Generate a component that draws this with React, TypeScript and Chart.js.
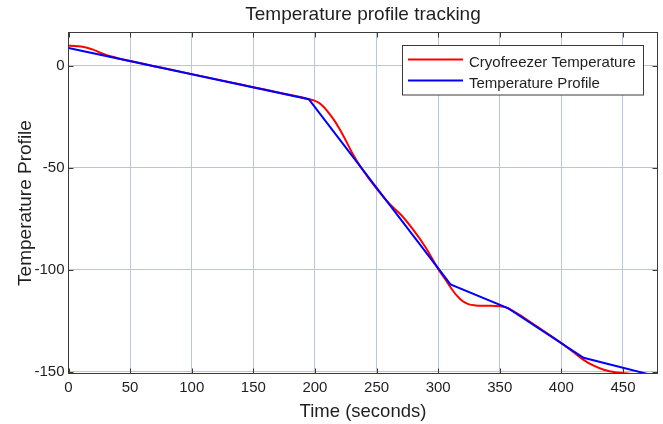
import { useEffect, useRef } from "react";
import { Chart, registerables } from "chart.js";

Chart.register(...registerables);

const TITLE = "Temperature profile tracking";
const X_TITLE = "Time (seconds)";
const Y_TITLE = "Temperature Profile";
const SERIES_NAMES = ["Cryofreezer Temperature", "Temperature Profile"];

const xTicks = [0, 50, 100, 150, 200, 250, 300, 350, 400, 450];
const yTicks = [-150, -100, -50, 0];

// Temperature profile (set-point), piecewise linear
const profileX = [0, 195, 310, 357, 418, 473];
const profileY = [8.7, -16.4, -107.2, -119, -143.2, -151.6];

// Cryofreezer temperature (measured)
const tempX = [0, 5, 10, 15, 20, 25, 30, 35, 40, 50, 75, 100, 125, 150, 175, 190, 195, 199, 203, 207, 211, 215, 220, 225, 230, 238, 250, 260, 270, 280, 290, 300, 305, 310, 315, 320, 325, 330, 340, 350, 355, 360, 370, 380, 390, 400, 410, 418, 425, 435, 445, 455, 465, 473];
const tempY = [9.8, 9.7, 9.4, 8.8, 7.9, 6.6, 5.4, 4.5, 3.7, 2.3, -0.9, -4.1, -7.3, -10.5, -13.7, -15.6, -16.4, -17.0, -18.1, -20.1, -23.0, -26.2, -31.0, -36.6, -42.5, -50.4, -60.3, -67.4, -73.2, -80.6, -89.2, -99.6, -104, -108.6, -112.6, -115.5, -117, -117.5, -117.7, -117.9, -118.5, -120, -123.7, -127.8, -131.8, -136, -140.5, -144.2, -146.7, -149.2, -150.4, -151.0, -151.4, -151.8];

const FONT = "'Liberation Sans', Arial, Helvetica, sans-serif";
const TEXT = "#1f1f1f";
const FRAME = "#3a3a3a";
const GRID = "#bcc2e4";

const decorPlugin = {
  id: "decor",
  afterDraw(chart: any) {
    const { ctx, chartArea: a, scales } = chart;
    const xs = scales.x;
    const ys = scales.y;
    ctx.save();
    // frame
    ctx.strokeStyle = FRAME;
    ctx.lineWidth = 1;
    ctx.strokeRect(a.left, a.top, a.right - a.left, a.bottom - a.top);
    // inward ticks
    const tl = 5;
    ctx.beginPath();
    xTicks.forEach((v) => {
      const px = Math.round(xs.getPixelForValue(v)) + 0.5;
      ctx.moveTo(px, a.bottom);
      ctx.lineTo(px, a.bottom - tl);
      ctx.moveTo(px, a.top);
      ctx.lineTo(px, a.top + tl);
    });
    yTicks.forEach((v) => {
      const py = Math.round(ys.getPixelForValue(v)) + 0.5;
      ctx.moveTo(a.left, py);
      ctx.lineTo(a.left + tl, py);
      ctx.moveTo(a.right, py);
      ctx.lineTo(a.right - tl, py);
    });
    ctx.stroke();

    // title
    ctx.fillStyle = TEXT;
    ctx.textAlign = "center";
    ctx.textBaseline = "alphabetic";
    ctx.font = `19px ${FONT}`;
    ctx.fillText(TITLE, (a.left + a.right) / 2, 20);
    // x title
    ctx.font = `18.5px ${FONT}`;
    ctx.fillText(X_TITLE, (a.left + a.right) / 2, 417);
    // y title
    ctx.save();
    ctx.translate(31, (a.top + a.bottom) / 2);
    ctx.rotate(-Math.PI / 2);
    ctx.font = `19px ${FONT}`;
    ctx.fillText(Y_TITLE, 0, 0);
    ctx.restore();

    // legend
    const lx = 402.5, ly = 45.5, lw = 241, lh = 49.5;
    ctx.fillStyle = "#ffffff";
    ctx.fillRect(lx, ly, lw, lh);
    ctx.strokeStyle = FRAME;
    ctx.lineWidth = 1;
    ctx.strokeRect(lx, ly, lw, lh);
    const colors = ["#ff0000", "#0000ff"];
    const rows = [59.5, 80.5];
    const bases = [66.5, 87.5];
    ctx.font = `15px ${FONT}`;
    ctx.textAlign = "left";
    rows.forEach((ry, i) => {
      ctx.strokeStyle = colors[i];
      ctx.lineWidth = 2;
      ctx.beginPath();
      ctx.moveTo(408, ry);
      ctx.lineTo(463, ry);
      ctx.stroke();
      ctx.fillStyle = TEXT;
      ctx.fillText(SERIES_NAMES[i], 469, bases[i]);
    });
    ctx.restore();
  },
};

export default function App() {
  const ref = useRef<HTMLCanvasElement | null>(null);
  useEffect(() => {
    if (!ref.current) return;
    const chart = new Chart(ref.current, {
      type: "line",
      data: {
        datasets: [
          {
            label: SERIES_NAMES[1],
            data: profileX.map((x, i) => ({ x, y: profileY[i] })),
            borderColor: "#0000ff",
            borderWidth: 2,
            pointRadius: 0,
            tension: 0,
            fill: false,
          },
          {
            label: SERIES_NAMES[0],
            data: tempX.map((x, i) => ({ x, y: tempY[i] })),
            borderColor: "#ff0000",
            borderWidth: 2,
            pointRadius: 0,
            cubicInterpolationMode: "monotone",
            fill: false,
          },
        ],
      },
      options: {
        responsive: false,
        animation: false,
        layout: { padding: { top: 32.5, right: 5.5, left: 0, bottom: 0 } },
        plugins: { legend: { display: false }, title: { display: false }, tooltip: { enabled: false } },
        scales: {
          x: {
            type: "linear",
            min: 0,
            max: 478,
            afterBuildTicks: (s: any) => {
              s.ticks = xTicks.map((v) => ({ value: v }));
            },
            afterFit: (s: any) => {
              s.height = 50.5;
            },
            grid: { color: GRID, lineWidth: 1, drawTicks: false },
            border: { display: false },
            ticks: {
              autoSkip: false,
              maxRotation: 0,
              padding: 5,
              color: TEXT,
              font: { family: FONT, size: 15 },
            },
          },
          y: {
            type: "linear",
            min: -150.9,
            max: 16.3,
            afterBuildTicks: (s: any) => {
              s.ticks = yTicks.map((v) => ({ value: v }));
            },
            afterFit: (s: any) => {
              s.width = 68.5;
            },
            grid: { color: GRID, lineWidth: 1, drawTicks: false },
            border: { display: false },
            ticks: {
              autoSkip: false,
              padding: 4,
              color: TEXT,
              font: { family: FONT, size: 15 },
            },
          },
        },
      },
      plugins: [decorPlugin],
    } as any);
    return () => chart.destroy();
  }, []);
  return (
    <div style={{ position: "absolute", left: 0, top: 0, width: 663, height: 424, background: "#fff" }}>
      <canvas ref={ref} width={663} height={424} style={{ display: "block" }} />
    </div>
  );
}
